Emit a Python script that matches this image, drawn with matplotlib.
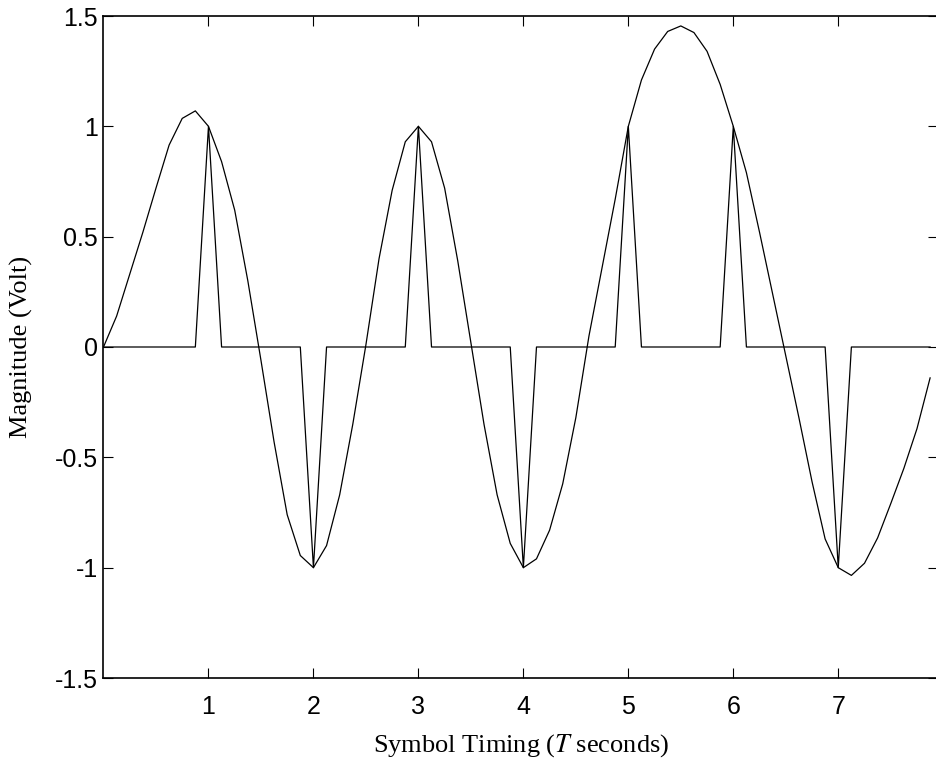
import numpy as np
import matplotlib
matplotlib.use('Agg')
from matplotlib import pyplot as plt

# samples per symbol period T
step = 0.125

# symbol values at t = 0, 1, ..., 7
symbols = [0, 1, -1, 1, -1, 1, 1, -1]

# received (filtered) waveform, one value per sample
waveform = [0.00, 0.14, 0.33, 0.52, 0.72, 0.915, 1.036, 1.07,
            1.00, 0.84, 0.62, 0.30, -0.06, -0.43, -0.76, -0.945,
            -1.00, -0.90, -0.67, -0.35, 0.01, 0.40, 0.71, 0.93,
            1.00, 0.93, 0.72, 0.39, 0.02, -0.35, -0.67, -0.89,
            -1.00, -0.96, -0.83, -0.62, -0.32, 0.05, 0.36, 0.67,
            1.00, 1.21, 1.35, 1.43, 1.455, 1.425, 1.34, 1.19,
            1.00, 0.79, 0.52, 0.24, -0.04, -0.32, -0.61, -0.87,
            -1.00, -1.035, -0.98, -0.865, -0.71, -0.55, -0.37, -0.14]

x_ticks = [1, 2, 3, 4, 5, 6, 7]
y_ticks = [-1.5, -1, -0.5, 0, 0.5, 1, 1.5]
y_labels = ['-1.5', '-1', '-0.5', '0', '0.5', '1', '1.5']

n_per = int(round(1 / step))
t = np.arange(len(waveform)) * step
impulses = np.zeros(len(waveform))
impulses[::n_per] = symbols

plt.rcParams['font.family'] = ['Liberation Sans', 'DejaVu Sans']
plt.rcParams['mathtext.fontset'] = 'stix'

fig = plt.figure(figsize=(9.37, 7.63), dpi=100)
# right spine sits just past the image edge, as in the cropped original
ax = fig.add_axes([103.5 / 937, 85 / 763, (938.5 - 103.5) / 937, 662 / 763])

ax.plot(t, waveform, color='black', lw=0.9)
ax.plot(t, impulses, color='black', lw=0.9)

ax.set_xlim(0, 7.955)
ax.set_ylim(-1.5, 1.5)
ax.set_xticks(x_ticks)
ax.set_xticklabels([str(v) for v in x_ticks])
ax.set_yticks(y_ticks)
ax.set_yticklabels(y_labels)
ax.tick_params(direction='in', length=7, width=0.8, top=True, right=True,
               labelsize=18)
ax.tick_params(axis='x', pad=12)
ax.tick_params(axis='y', pad=4)
for s in ax.spines.values():
    s.set_linewidth(1.2)

ax.set_xlabel('Symbol Timing ($T$ seconds)', family='Liberation Serif',
              fontsize=19, labelpad=10)
ax.set_ylabel('Magnitude (Volt)', family='Liberation Serif', fontsize=19,
              labelpad=16)

fig.savefig('out.png', dpi=100)
